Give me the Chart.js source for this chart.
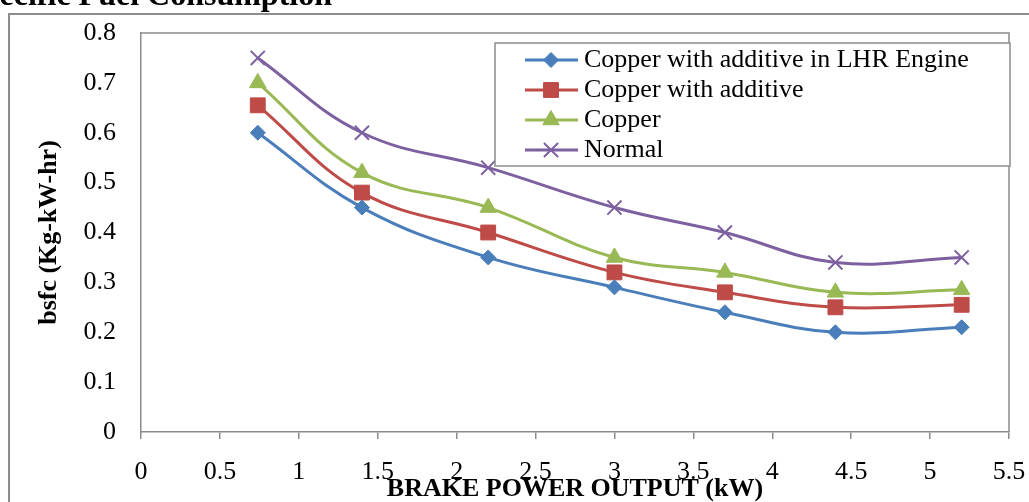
<!DOCTYPE html>
<html>
<head>
<meta charset="utf-8">
<script src="https://cdn.jsdelivr.net/npm/chart.js@4.4.1/dist/chart.umd.min.js"></script>
<style>
  html, body { margin: 0; padding: 0; background: #fff; }
  canvas { display: block; }
</style>
</head>
<body>
<canvas id="bsfc-chart" width="1029" height="502"></canvas>
<script>
// brake power output (kW)
var powerOutput = [0.74, 1.4, 2.2, 3, 3.7, 4.4, 5.2];

// bsfc (Kg-kW-hr)
var copperAdditiveLHR = [0.6, 0.45, 0.35, 0.29, 0.24, 0.2, 0.21];
var copperAdditive = [0.655, 0.48, 0.4, 0.32, 0.28, 0.25, 0.255];
var copper = [0.7, 0.52, 0.45, 0.35, 0.32, 0.28, 0.285];
var normal = [0.75, 0.6, 0.53, 0.45, 0.4, 0.34, 0.35];

var seriesNames = ['Copper with additive in LHR Engine', 'Copper with additive', 'Copper', 'Normal'];
var chartTitle = 'Brake Specific Fuel Consumption';
var xTitle = 'BRAKE POWER OUTPUT (kW)';
var yTitle = 'bsfc (Kg-kW-hr)';

function pairs(ys) {
    return powerOutput.map(function (x, i) { return { x: x, y: ys[i] }; });
}

var serif = "'Liberation Serif', 'Times New Roman', serif";
var frameColor = '#8c8c8c';

function serie(label, values, color, style, radius, bw) {
    return {
        label: label,
        data: pairs(values),
        borderColor: color,
        backgroundColor: color,
        borderWidth: 3,
        pointStyle: style,
        pointRadius: radius,
        pointHoverRadius: radius,
        pointBorderWidth: bw,
        pointBackgroundColor: color,
        pointBorderColor: color,
        tension: 0.4
    };
}

// plain numbers on the axes (0.5, 1, 1.5 ...)
function plain(v) {
    return String(Math.round(v * 10) / 10);
}

// fixed axis boxes, no extra room for the end labels
function fixBox(w, h) {
    return function (s) {
        if (w) s.width = w;
        if (h) s.height = h;
        s.paddingTop = 0;
        s.paddingBottom = 0;
        s.paddingLeft = 0;
        s.paddingRight = 0;
    };
}

// frame, plot border, cut title and legend box
var decorations = {
    id: 'decorations',
    afterDraw: function (chart) {
        var ctx = chart.ctx;
        var a = chart.chartArea;
        ctx.save();
        ctx.strokeStyle = frameColor;
        ctx.lineWidth = 2;
        ctx.beginPath();
        ctx.moveTo(9, 502);
        ctx.lineTo(9, 14);
        ctx.lineTo(1029, 14);
        ctx.stroke();

        ctx.lineWidth = 1.5;
        ctx.beginPath();
        ctx.moveTo(a.left, a.top);
        ctx.lineTo(a.right, a.top);
        ctx.lineTo(a.right, a.bottom);
        ctx.stroke();

        ctx.fillStyle = '#000';
        ctx.font = 'bold 32px ' + serif;
        ctx.textAlign = 'right';
        ctx.textBaseline = 'alphabetic';
        ctx.fillText(chartTitle, 332, 5);

        // legend
        var lx = 495, ly = 43, lw = 515, lh = 123;
        ctx.fillStyle = '#fff';
        ctx.fillRect(lx, ly, lw, lh);
        ctx.strokeStyle = frameColor;
        ctx.lineWidth = 1.5;
        ctx.strokeRect(lx, ly, lw, lh);
        chart.data.datasets.forEach(function (ds, i) {
            var y = 60 + i * 30;
            ctx.strokeStyle = ds.borderColor;
            ctx.lineWidth = 3;
            ctx.beginPath();
            ctx.moveTo(525, y);
            ctx.lineTo(578, y);
            ctx.stroke();
            ctx.fillStyle = ds.pointBackgroundColor;
            ctx.strokeStyle = ds.pointBorderColor;
            ctx.lineWidth = ds.pointBorderWidth;
            Chart.helpers.drawPoint(ctx, {
                pointStyle: ds.pointStyle,
                radius: ds.pointRadius,
                rotation: 0,
                borderWidth: ds.pointBorderWidth
            }, 551, y);
            ctx.fillStyle = '#000';
            ctx.font = '26px ' + serif;
            ctx.textAlign = 'left';
            ctx.textBaseline = 'middle';
            ctx.fillText(ds.label, 584, y);
        });
        ctx.restore();
    }
};

var ctx = document.getElementById('bsfc-chart').getContext('2d');
var bsfc = new Chart(ctx, {
    type: 'line',
    data: {
        datasets: [
            serie(seriesNames[0], copperAdditiveLHR, '#4A7EBB', 'rectRot', 7.5, 1),
            serie(seriesNames[1], copperAdditive, '#BE4B48', 'rect', 10.5, 1),
            serie(seriesNames[2], copper, '#98B954', 'triangle', 9.5, 1),
            serie(seriesNames[3], normal, '#7D60A0', 'crossRot', 10, 2)
        ]
    },
    options: {
        responsive: false,
        animation: false,
        layout: { autoPadding: false, padding: { top: 33, right: 20, left: 0, bottom: 0 } },
        plugins: {
            legend: { display: false },
            tooltip: { enabled: false }
        },
        scales: {
            x: {
                type: 'linear',
                min: 0,
                max: 5.5,
                afterFit: fixBox(0, 70),
                border: { display: true, color: frameColor, width: 1.5 },
                grid: { drawOnChartArea: false, drawTicks: true, tickLength: 7, color: frameColor, lineWidth: 1.5 },
                ticks: {
                    stepSize: 0.5,
                    autoSkip: false,
                    maxRotation: 0,
                    padding: 18,
                    color: '#000',
                    font: { family: serif, size: 26 },
                    callback: plain
                },
                title: {
                    display: true,
                    text: xTitle,
                    color: '#000',
                    font: { family: serif, size: 26, weight: 'bold', lineHeight: 1 },
                    padding: { top: 0, bottom: 0 }
                }
            },
            y: {
                min: 0,
                max: 0.8,
                afterFit: fixBox(141, 0),
                border: { display: true, color: frameColor, width: 1.5 },
                grid: { drawOnChartArea: false, drawTicks: false },
                ticks: {
                    stepSize: 0.1,
                    padding: 25,
                    color: '#000',
                    font: { family: serif, size: 26 },
                    callback: plain
                },
                title: {
                    display: true,
                    text: yTitle,
                    color: '#000',
                    font: { family: serif, size: 26, weight: 'bold' },
                    padding: { top: 34, bottom: 0 }
                }
            }
        }
    },
    plugins: [decorations]
});
</script>
</body>
</html>
